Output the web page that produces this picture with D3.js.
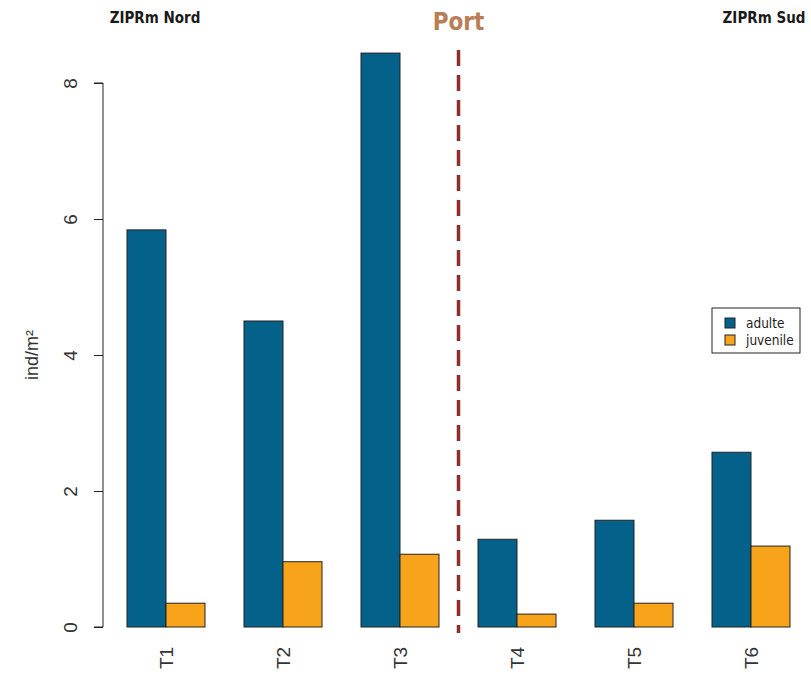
<!DOCTYPE html>
<html>
<head>
<meta charset="utf-8">
<script src="https://cdn.jsdelivr.net/npm/d3@7"></script>
<style>
  body { margin: 0; background: #fff; }
  svg { display: block; }
</style>
</head>
<body>
<svg id="chart" width="811" height="694"></svg>
<script>
// Densités par transect (ind/m²)
const transects = ["T1", "T2", "T3", "T4", "T5", "T6"];
const stages = ["adulte", "juvenile"];
const adulte = [5.84, 4.50, 8.44, 1.29, 1.57, 2.57];
const juvenile = [0.35, 0.96, 1.07, 0.19, 0.35, 1.19];
const yTicks = [0, 2, 4, 6, 8];
const zoneLabels = ["ZIPRm Nord", "Port", "ZIPRm Sud"];

const colors = { adulte: "#04628A", juvenile: "#F7A41A" };
const axisFont = "Liberation Sans, Arial, sans-serif";
const zoneFont = "'Liberation Sans Narrow', 'DejaVu Sans Condensed', 'Open Sans', sans-serif";

const svg = d3.select("#chart");

// barplot-style unit layout: each group = 2 bars + 1 gap
const x = d3.scaleLinear().domain([0, 18]).range([88, 790]);
const y = d3.scaleLinear().domain([0, 8]).range([627, 83]);

const rows = transects.map((t, i) => ({ t, i, adulte: adulte[i], juvenile: juvenile[i] }));

const bars = [];
rows.forEach(r => {
  stages.forEach((s, j) => {
    const u0 = 1 + r.i * 3 + j;
    bars.push({ s, u0, v: r[s] });
  });
});

svg.append("g").selectAll("rect").data(bars).join("rect")
  .attr("x", d => x(d.u0))
  .attr("y", d => y(d.v))
  .attr("width", d => x(d.u0 + 1) - x(d.u0))
  .attr("height", d => y(0) - y(d.v))
  .attr("fill", d => colors[d.s])
  .attr("stroke", "#222")
  .attr("stroke-width", 1);

// y axis
const yAxis = d3.axisLeft(y).tickValues(yTicks).tickSize(9).tickFormat(d3.format("d"));
const gy = svg.append("g").attr("transform", "translate(103,0)").call(yAxis);
gy.select(".domain").attr("d", `M-9,${y(0)}H0V${y(8)}H-9`).attr("stroke", "#222");
gy.selectAll(".tick line").attr("stroke", "#222");
gy.selectAll(".tick text")
  .attr("x", null).attr("dy", null)
  .attr("transform", "translate(-33,0) rotate(-90)")
  .attr("text-anchor", "middle")
  .attr("dominant-baseline", "central")
  .attr("font-family", axisFont)
  .attr("font-size", 19)
  .attr("fill", "#333");

// y label
svg.append("text")
  .attr("transform", `translate(32,${y(4)}) rotate(-90)`)
  .attr("text-anchor", "middle")
  .attr("dominant-baseline", "central")
  .attr("font-family", axisFont)
  .attr("font-size", 18)
  .attr("fill", "#333")
  .text("ind/m²");

// category labels, rotated
svg.append("g").selectAll("text").data(rows).join("text")
  .attr("transform", d => `translate(${x(2 + d.i * 3)},658) rotate(-90)`)
  .attr("text-anchor", "middle")
  .attr("dominant-baseline", "central")
  .attr("font-family", axisFont)
  .attr("font-size", 19)
  .attr("fill", "#333")
  .text(d => d.t);

// port separator
svg.append("line")
  .attr("x1", x(9.5)).attr("x2", x(9.5))
  .attr("y1", 50).attr("y2", 633)
  .attr("stroke", "#8E2F2B")
  .attr("stroke-width", 3.5)
  .attr("stroke-dasharray", "16,9");

// zone labels
svg.append("text").attr("x", 155).attr("y", 23)
  .attr("text-anchor", "middle").attr("font-family", zoneFont)
  .attr("font-weight", "bold").attr("font-size", 15).attr("fill", "#1a1a1a")
  .text(zoneLabels[0]);
svg.append("text").attr("x", x(9.5)).attr("y", 30)
  .attr("text-anchor", "middle").attr("font-family", zoneFont)
  .attr("font-weight", "bold").attr("font-size", 24).attr("fill", "#B97E56")
  .text(zoneLabels[1]);
svg.append("text").attr("x", 764).attr("y", 23)
  .attr("text-anchor", "middle").attr("font-family", zoneFont)
  .attr("font-weight", "bold").attr("font-size", 15).attr("fill", "#1a1a1a")
  .text(zoneLabels[2]);

// legend
const lg = svg.append("g").attr("transform", "translate(712,308)");
lg.append("rect").attr("width", 88).attr("height", 45)
  .attr("fill", "#fff").attr("stroke", "#222").attr("stroke-width", 1);
stages.forEach((s, i) => {
  const row = lg.append("g").attr("transform", `translate(13,${15 + i * 17})`);
  row.append("rect").attr("x", 0).attr("y", -5).attr("width", 10).attr("height", 10)
    .attr("fill", colors[s]).attr("stroke", "#222");
  row.append("text").attr("x", 21).attr("y", 0)
    .attr("dominant-baseline", "central")
    .attr("font-family", zoneFont).attr("font-size", 13.5).attr("fill", "#222")
    .text(s);
});
</script>
</body>
</html>
